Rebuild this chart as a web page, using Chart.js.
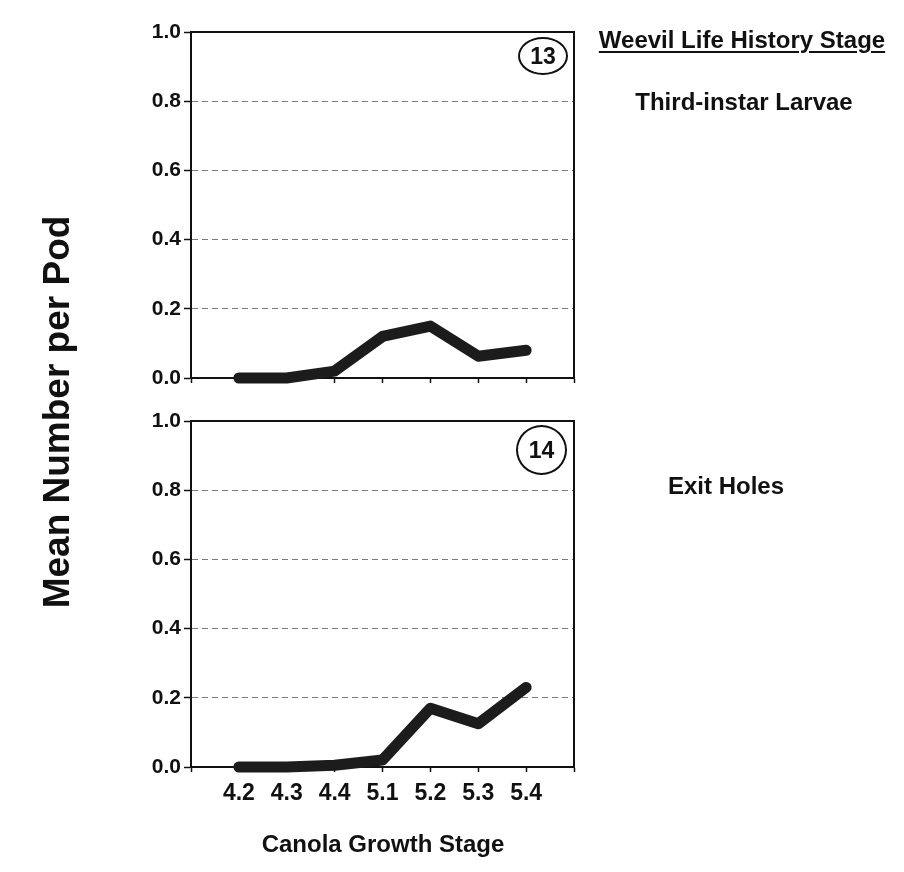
<!DOCTYPE html>
<html>
<head>
<meta charset="utf-8">
<script src="https://cdn.jsdelivr.net/npm/chart.js@4/dist/chart.umd.min.js"></script>
<style>
  html, body { margin: 0; padding: 0; background: #fff; }
  body { width: 904px; height: 872px; position: relative; overflow: hidden;
         font-family: "Liberation Sans", Arial, sans-serif; color: #111; }
  canvas { position: absolute; left: 0; top: 0; }
  .t { position: absolute; font-weight: bold; font-size: 24px; line-height: 24px;
       text-align: center; white-space: nowrap; }
  .circ { position: absolute; border: 2px solid #111; border-radius: 50%;
          box-sizing: border-box; display: flex; align-items: center; justify-content: center;
          font-weight: bold; font-size: 23px; }
</style>
</head>
<body>
<canvas id="cA" width="904" height="872"></canvas>
<canvas id="cB" width="904" height="872"></canvas>

<div class="t" style="left:542px;width:400px;top:28px;text-decoration:underline;text-underline-offset:3px;">Weevil Life History Stage</div>
<div class="t" style="left:544px;width:400px;top:90px;">Third-instar Larvae</div>
<div class="t" style="left:526px;width:400px;top:474px;">Exit Holes</div>
<div class="t" style="left:183px;width:400px;top:832px;">Canola Growth Stage</div>
<div class="t" style="left:-193px;width:500px;top:392px;height:40px;line-height:40px;font-size:37px;transform:rotate(-90deg);">Mean Number per Pod</div>
<div class="circ" style="left:518px;top:37px;width:50px;height:38px;">13</div>
<div class="circ" style="left:516px;top:425px;width:51px;height:50px;">14</div>

<script>
// ---- data ----
const categories = ['4.2', '4.3', '4.4', '5.1', '5.2', '5.3', '5.4'];
const thirdInstarLarvae = [0.0, 0.0, 0.02, 0.12, 0.15, 0.063, 0.08];
const exitHoles = [0.0, 0.0, 0.005, 0.02, 0.17, 0.125, 0.23];
const yTickValues = [0.0, 0.2, 0.4, 0.6, 0.8, 1.0];

const axisLabels = [''].concat(categories, ['']);
function padded(arr) { return [null].concat(arr, [null]); }

const boxPlugin = {
  id: 'box',
  afterDraw(chart) {
    const a = chart.chartArea, ctx = chart.ctx;
    ctx.save();
    ctx.strokeStyle = '#111';
    ctx.lineWidth = 2;
    ctx.beginPath();
    ctx.moveTo(a.left, a.top);
    ctx.lineTo(a.right, a.top);
    ctx.lineTo(a.right, a.bottom);
    ctx.stroke();
    ctx.restore();
  }
};

function makeChart(id, values, pad, xHeight, showXLabels) {
  return new Chart(document.getElementById(id), {
    type: 'line',
    data: {
      labels: axisLabels,
      datasets: [{
        data: padded(values),
        borderColor: '#1c1c1c',
        borderWidth: 11,
        borderCapStyle: 'round',
        borderJoinStyle: 'round',
        pointRadius: 0,
        tension: 0,
        clip: false,
        spanGaps: false
      }]
    },
    options: {
      responsive: false,
      animation: false,
      devicePixelRatio: 1,
      layout: { padding: pad },
      plugins: { legend: { display: false }, tooltip: { enabled: false } },
      scales: {
        x: {
          type: 'category',
          offset: false,
          afterFit(s) { s.height = xHeight; },
          grid: { drawOnChartArea: false, tickLength: 5, tickColor: '#111', tickWidth: 1.5 },
          border: { color: '#111', width: 2 },
          ticks: {
            display: showXLabels,
            autoSkip: false,
            maxRotation: 0,
            padding: 8,
            color: '#111',
            font: { family: 'Liberation Sans', size: 23, weight: 'bold' }
          }
        },
        y: {
          min: 0, max: 1,
          afterFit(s) { s.width = 191; },
          afterBuildTicks(s) { s.ticks = yTickValues.map(v => ({ value: v })); },
          grid: {
            color: c => (c.tick && (c.tick.value === 0 || c.tick.value === 1)) ? 'rgba(0,0,0,0)' : '#7a7a7a',
            lineWidth: 1,
            tickLength: 7,
            tickColor: '#111',
            tickWidth: 1.5,
            tickBorderDash: []
          },
          border: { color: '#111', width: 2, dash: [6, 4] },
          ticks: {
            padding: 3,
            color: '#111',
            font: { family: 'Liberation Sans', size: 21, weight: 'bold' },
            callback: v => Number(v).toFixed(1)
          }
        }
      }
    },
    plugins: [boxPlugin]
  });
}

makeChart('cA', thirdInstarLarvae, { left: 0, top: 32, right: 330, bottom: 484 }, 10, false);
makeChart('cB', exitHoles, { left: 0, top: 421, right: 330, bottom: 5 }, 100, true);
</script>
</body>
</html>
